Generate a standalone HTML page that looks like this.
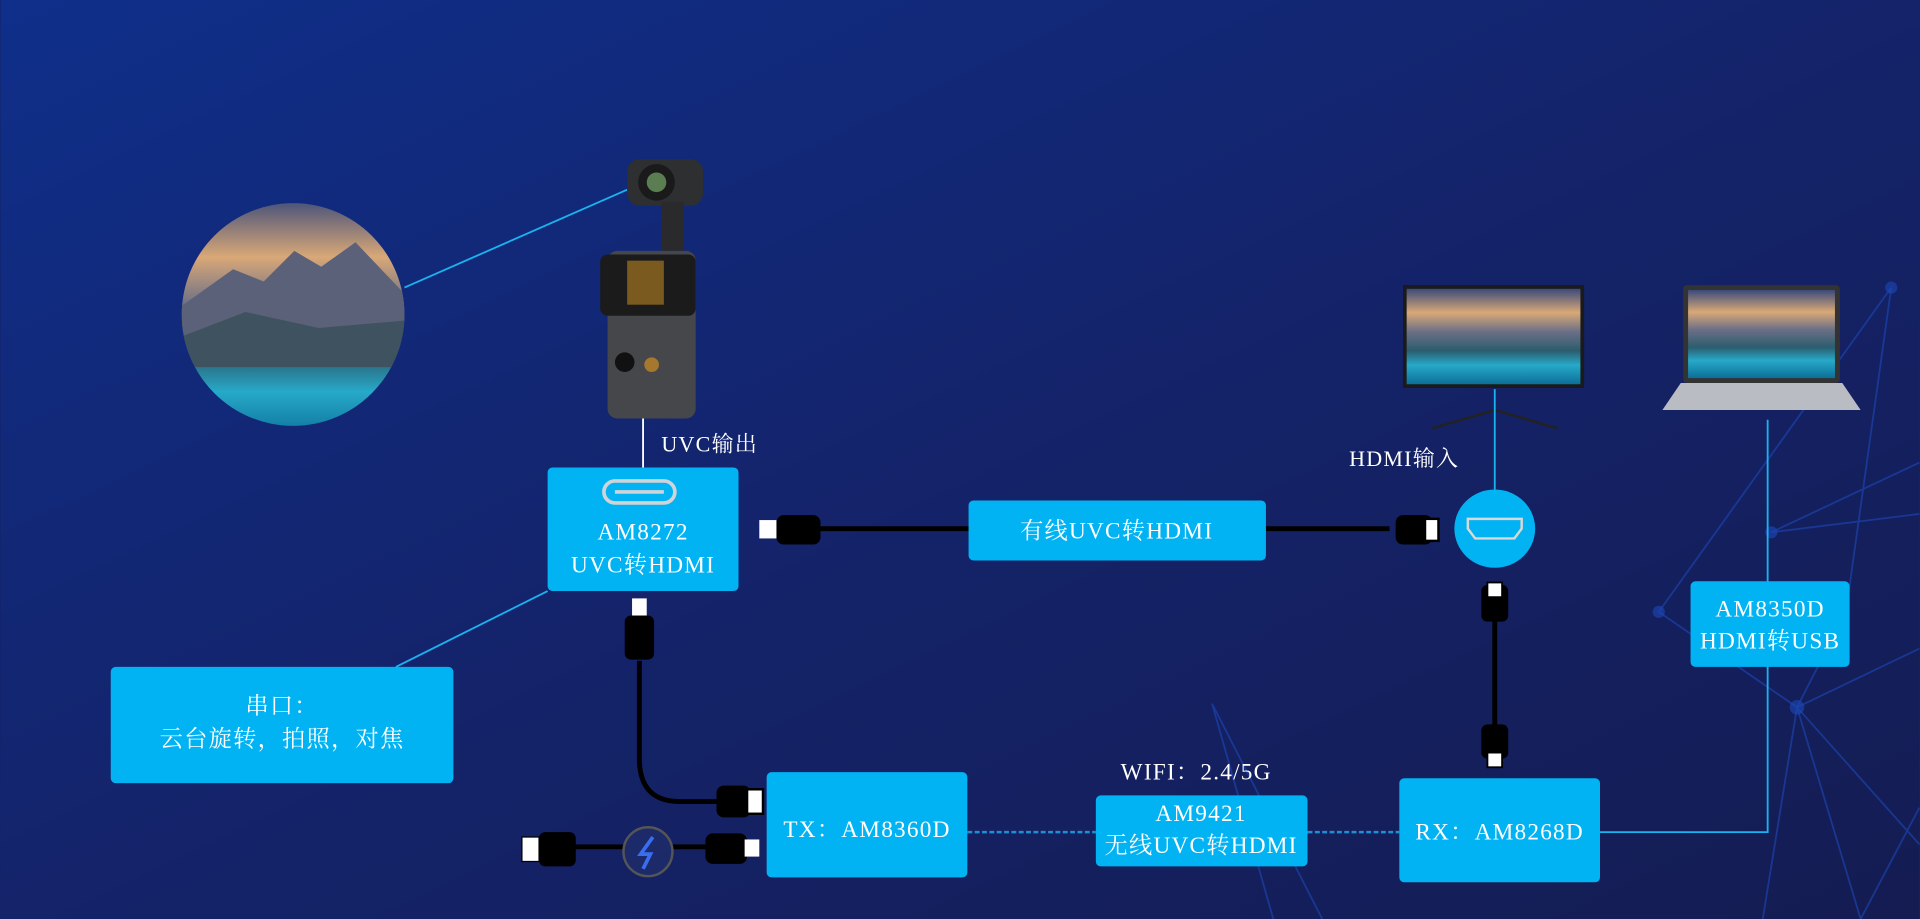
<!DOCTYPE html>
<html><head><meta charset="utf-8"><style>
html,body{margin:0;padding:0;background:#13236a;}
svg{display:block}
text{font-family:"Liberation Serif","Noto Serif CJK SC",serif;fill:#fff;}
</style></head><body>
<svg width="1920" height="919" viewBox="0 0 1568 751" xmlns="http://www.w3.org/2000/svg">
<defs>
<linearGradient id="bg" x1="0" y1="0" x2="1" y2="1">
<stop offset="0" stop-color="#0f2f8a"/><stop offset="0.5" stop-color="#14236a"/><stop offset="1" stop-color="#141c52"/>
</linearGradient>
<linearGradient id="sky" x1="0" y1="0" x2="0" y2="1">
<stop offset="0" stop-color="#3b4a7a"/><stop offset="0.25" stop-color="#d9a877"/><stop offset="0.45" stop-color="#6b6f86"/><stop offset="0.65" stop-color="#2b5d6e"/><stop offset="0.8" stop-color="#27a9c9"/><stop offset="1" stop-color="#0c6f98"/>
</linearGradient>
<clipPath id="cc"><circle cx="239" cy="257" r="91"/></clipPath>
</defs>
<rect width="1568" height="751" fill="url(#bg)"/>
<g stroke="#1d47b8" stroke-width="1.5" opacity="0.6" fill="none">
<path d="M1355 500 L1545 235 M1355 500 L1468 578 L1568 530 M1468 578 L1568 690 M1468 578 L1520 751 M1468 578 L1440 751 M1447 435 L1568 378 M1447 435 L1568 420 M1545 235 L1508 500 L1468 578 M990 575 L1040 751 M990 575 L1080 751 M1568 660 L1520 751"/>
</g>
<g fill="#1d47b8" opacity="0.6"><circle cx="1355" cy="500" r="5"/><circle cx="1468" cy="578" r="6"/><circle cx="1447" cy="435" r="5"/><circle cx="1545" cy="235" r="5"/></g>
<g clip-path="url(#cc)"><rect x="140" y="160" width="200" height="200" fill="url(#sky)"/>
<path d="M148 250 L190 220 L215 230 L240 205 L262 218 L290 198 L330 240 L330 290 L148 290Z" fill="#5b6178"/>
<path d="M148 275 L200 255 L260 268 L330 262 L330 300 L148 300Z" fill="#3e5260"/></g>
<line x1="330" y1="235" x2="512" y2="155" stroke="#19b4f0" stroke-width="1.5"/>
<rect x="512" y="130" width="62" height="38" rx="10" fill="#2e2f31"/>
<circle cx="536" cy="149" r="15" fill="#1a1a1a"/><circle cx="536" cy="149" r="8" fill="#5a7d52"/>
<rect x="540" y="165" width="18" height="40" fill="#2a2a2c"/>
<rect x="496" y="205" width="72" height="137" rx="8" fill="#45474b"/>
<rect x="490" y="208" width="78" height="50" rx="6" fill="#1b1b1c"/>
<rect x="512" y="213" width="30" height="36" fill="#7a5a1e"/>
<circle cx="510" cy="296" r="8" fill="#111"/><circle cx="532" cy="298" r="6" fill="#a6782e"/>
<line x1="525" y1="342" x2="525" y2="382" stroke="#fff" stroke-width="1.5"/>
<text x="540" y="369" font-size="18" letter-spacing="1">UVC输出</text>
<rect x="1146" y="233" width="148" height="84" fill="#1a1a1a"/>
<rect x="1149" y="236" width="142" height="78" fill="url(#sky)"/>
<path d="M1221 318 L1221 335 L1170 350 M1221 335 L1272 350 M1221 335 L1221 350" stroke="#222" stroke-width="2" fill="none"/>
<rect x="1375" y="233" width="128" height="80" rx="3" fill="#333"/>
<rect x="1379" y="237" width="120" height="72" fill="url(#sky)"/>
<path d="M1358 335 L1520 335 L1505 313 L1373 313Z" fill="#b9bcc2"/>
<line x1="1221" y1="318" x2="1221" y2="400" stroke="#19b4f0" stroke-width="1.5"/>
<text x="1102" y="381" font-size="18" letter-spacing="1">HDMI输入</text>
<polyline points="1444,343 1444,680 1307,680" stroke="#19b4f0" stroke-width="1.5" fill="none"/>
<g stroke="#000" stroke-width="4" fill="none">
<line x1="670" y1="432" x2="1135" y2="432"/>
<path d="M522 540 L522 620 Q522 655 555 655 L590 655"/>
<line x1="1221" y1="505" x2="1221" y2="595"/>
<line x1="460" y1="692" x2="580" y2="692"/>
</g>
<g fill="#02b3f3">
<rect x="447" y="382" width="156" height="101" rx="4"/>
<rect x="90" y="545" width="280" height="95" rx="4"/>
<rect x="791" y="409" width="243" height="49" rx="4"/>
<rect x="1381" y="475" width="130" height="70" rx="4"/>
<rect x="1143" y="636" width="164" height="85" rx="4"/>
<rect x="895" y="650" width="173" height="58" rx="4"/>
<rect x="626" y="631" width="164" height="86" rx="4"/>
<ellipse cx="1221" cy="432" rx="33" ry="32"/>
</g>
<rect x="493" y="393" width="58" height="18" rx="9" fill="none" stroke="#d0d4d8" stroke-width="3"/>
<line x1="502" y1="402" x2="542" y2="402" stroke="#d0d4d8" stroke-width="3"/>
<path d="M1199 424 L1243 424 L1243 432 L1237 440 L1205 440 L1199 432Z" fill="none" stroke="#d8d8d8" stroke-width="2"/>
<line x1="323" y1="545" x2="447" y2="483" stroke="#19b4f0" stroke-width="1.5"/>
<g font-size="19" text-anchor="middle" letter-spacing="1">
<text x="525" y="441">AM8272</text><text x="525" y="468">UVC转HDMI</text>
<text x="230" y="583">串口：</text><text x="230" y="610">云台旋转，拍照，对焦</text>
<text x="912" y="440">有线UVC转HDMI</text>
<text x="1446" y="504">AM8350D</text><text x="1446" y="530">HDMI转USB</text>
<text x="1225" y="686">RX：AM8268D</text>
<text x="981" y="671">AM9421</text><text x="981" y="697">无线UVC转HDMI</text>
<text x="708" y="684">TX：AM8360D</text>
<text x="977" y="637">WIFI：2.4/5G</text>
</g>
<g fill="#000">
<rect x="634" y="421" width="36" height="24" rx="6"/><rect x="620" y="425" width="14" height="15" fill="#fff"/>
<rect x="1140" y="421" width="30" height="24" rx="6"/><rect x="1164" y="424" width="11" height="18" fill="#fff" stroke="#000" stroke-width="2"/>
<rect x="510" y="503" width="24" height="36" rx="5"/><rect x="516" y="489" width="12" height="14" fill="#fff"/>
<rect x="585" y="642" width="28" height="26" rx="6"/><rect x="610" y="645" width="13" height="20" fill="#fff" stroke="#000" stroke-width="2"/>
<rect x="1210" y="478" width="22" height="30" rx="5"/><rect x="1215" y="476" width="12" height="12" fill="#fff" stroke="#000" stroke-width="1.5"/>
<rect x="1210" y="592" width="22" height="28" rx="5"/><rect x="1215" y="615" width="12" height="12" fill="#fff" stroke="#000" stroke-width="1.5"/>
<rect x="440" y="680" width="30" height="28" rx="5"/><rect x="426" y="684" width="14" height="20" fill="#fff" stroke="#000"/>
<rect x="576" y="681" width="34" height="25" rx="6"/><rect x="608" y="686" width="12" height="14" fill="#fff"/>
</g>
<circle cx="529" cy="696" r="20" fill="#1c2a6a" stroke="#555" stroke-width="2"/>
<path d="M533 684 L523 698 L531 698 L525 710" stroke="#3a6ef0" stroke-width="3" fill="none"/>
<g stroke="#1e8fd6" stroke-width="2" stroke-dasharray="4 2">
<line x1="790" y1="680" x2="895" y2="680"/><line x1="1068" y1="680" x2="1143" y2="680"/>
</g>
</svg>
</body></html>
